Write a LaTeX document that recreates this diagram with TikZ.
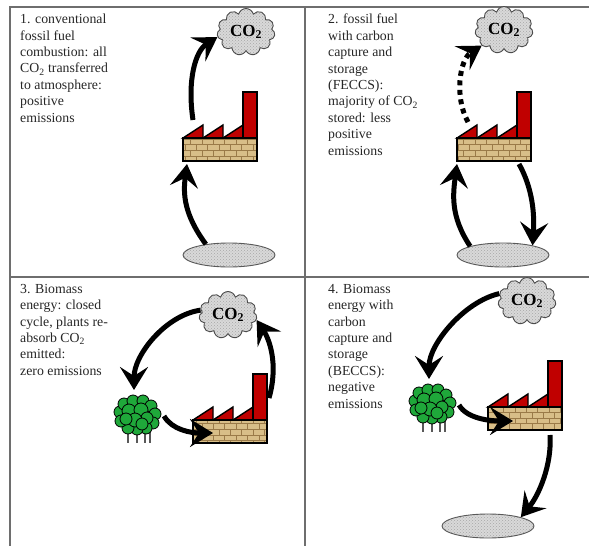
\documentclass[tikz,border=0pt]{standalone}
\usepackage{fontspec}
\setmainfont{Liberation Serif}
\usetikzlibrary{positioning, arrows.meta, shapes.symbols, shapes.geometric, patterns}
\definecolor{roofRed}{HTML}{C00000}
\definecolor{leafGreen}{HTML}{1FA83A}
\definecolor{brickTan}{HTML}{D8BE88}
\definecolor{brickLine}{HTML}{9A7A48}
\definecolor{rockGray}{HTML}{C8C8C8}
\definecolor{ruleGray}{HTML}{6E6E6E}
\tikzset{
  every node/.style={font=\fontsize{13.8}{16.4}\selectfont},
  flow/.style={line width=5pt, -{Stealth[length=23pt, width=28pt, inset=9pt]}},
  flowd/.style={flow, dash pattern=on 5pt off 4.5pt},
  rule/.style={draw=ruleGray, line width=1.6pt},
  note/.style={anchor=north west, inner sep=0pt, align=left, text=black!85},
  puff/.style={cloud, cloud puffs=11, cloud ignores aspect, minimum width=58pt,
               minimum height=47pt, inner sep=0pt, draw=black!70, line width=0.9pt,
               preaction={fill=rockGray!70}, pattern=crosshatch dots, pattern color=gray!70,
               font=\bfseries\fontsize{17}{17}\selectfont},
  rock/.style={ellipse, minimum width=92pt, minimum height=24pt, draw=black!65, line width=0.9pt,
               preaction={fill=rockGray!70}, pattern=crosshatch dots, pattern color=gray!70},
  basebox/.style={draw, line width=1.6pt, minimum width=74pt, minimum height=23pt, inner sep=0pt,
                  outer sep=0pt, preaction={fill=brickTan}, pattern=bricks, pattern color=brickLine},
  roof/.style={draw, line width=1.4pt, fill=roofRed, line join=miter},
  leaf/.style={draw=black, line width=0.8pt, fill=leafGreen},
  trunk/.style={draw=gray!70!black, line width=1.2pt},
  % factory: sawtooth roof, chimney and brick base (origin = top left of base)
  factory/.pic={
    \foreach \i in {0,1,2}
      \draw[roof] (20*\i,0) -- (20*\i+20,-13) -- (20*\i+20,0) -- cycle;
    \draw[roof] (60,0) rectangle (74,-46);
    \node[basebox, anchor=north west] (-base) at (0,0) {};
  },
  % shrub: trunks under a clump of leaves (origin = middle of clump)
  shrub/.pic={
    \foreach \dx in {-9,0,8,13}
      \draw[trunk] (\dx,8) -- (\dx,27);
    \foreach \cx/\cy/\r in {-17/-4/6pt, -13/-12/6pt, -4/-15/6pt, 6/-15/6pt, 14/-10/6pt,
                            18/-2/6pt, 16/7/6pt, 9/12/6pt, 0/13/6pt, -9/12/6pt, -16/5/6pt,
                            -8/-5/7pt, 4/-6/7pt, 10/2/6pt, -2/4/7pt, -11/3/6pt, 5/8/6pt}
      \draw[leaf] (\cx,\cy) circle (\r);
    \coordinate (-in) at (-3,-26);
    \coordinate (-out) at (27,0);
  },
}

\begin{document}
\begin{tikzpicture}[x=1pt, y=-1pt]
  \useasboundingbox (0,0) rectangle (589,546);
  % frame
  \draw[rule] (9,7) -- (589,7);
  \draw[rule] (10,7) -- (10,546);
  \draw[rule] (305,7) -- (305,546);
  \draw[rule] (10,277) -- (589,277);
  % captions
  \node[note] (t1) at (20,14) {1. conventional\\fossil fuel\\combustion: all\\CO\textsubscript{2} transferred\\to atmosphere:\\positive\\emissions};
  \node[note] (t2) at (328,14) {2. fossil fuel\\with carbon\\capture and\\storage\\(FECCS):\\majority of CO\textsubscript{2}\\stored: less\\positive\\emissions};
  \node[note] (t3) at (20,284) {3. Biomass\\energy: closed\\cycle, plants re-\\absorb CO\textsubscript{2}\\emitted:\\zero emissions};
  \node[note] (t4) at (328,284) {4. Biomass\\energy with\\carbon\\capture and\\storage\\(BECCS):\\negative\\emissions};
  % clouds
  \node[puff] (co1) at (246,32) {CO\textsubscript{2}};
  \node[puff] (co2) at (504,30) {CO\textsubscript{2}};
  \node[puff] (co3) at (228,315) {CO\textsubscript{2}};
  \node[puff] (co4) at (527,301) {CO\textsubscript{2}};
  % stores underground
  \node[rock] (e1) at (229,255) {};
  \node[rock] (e2) at (503,255) {};
  \node[rock] (e4) at (488,526) {};
  % plants
  \pic (f1) at (183,138) {factory};
  \pic (f2) at (457,138) {factory};
  \pic (f3) at (193,420) {factory};
  \pic (f4) at (488,407) {factory};
  \pic (t3) at (137,416) {shrub};
  \pic (t4) at (432,405) {shrub};
  % 1. fossil fuel
  \draw[flow] ([xshift=10pt,yshift=18pt]f1-base.north west) .. controls +(-6,-40) and +(-22,14) .. (co1.190);
  \draw[flow] (e1.155) .. controls +(-22,-30) and +(-4,30) .. ([xshift=4pt,yshift=-3pt]f1-base.south west);
  % 2. fossil fuel with capture
  \draw[flowd] ([xshift=11pt,yshift=16pt]f2-base.north west) .. controls +(-14,-25) and +(-22,14) .. (co2.215);
  \draw[flow] (e2.165) .. controls +(-20,-30) and +(-4,30) .. ([xshift=0pt,yshift=-3pt]f2-base.south west);
  \draw[flow] ([xshift=-12pt,yshift=-3pt]f2-base.south east) .. controls +(14,25) and +(2,-30) .. (e2.18);
  % 3. biomass
  \draw[flow] (co3.170) .. controls +(-35,5) and +(0,-35) .. (t3-in);
  \draw[flow] (t3-out) .. controls +(8,14) and +(-22,0) .. ([xshift=20pt,yshift=-13pt]f3-base.north west);
  \draw[flow] ([xshift=2pt,yshift=22pt]f3-base.north east) .. controls +(10,-35) and +(12,18) .. (co3.-10);
  % 4. biomass with capture
  \draw[flow] (co4.165) .. controls +(-35,8) and +(0,-35) .. (t4-in);
  \draw[flow] (t4-out) .. controls +(8,14) and +(-22,0) .. ([xshift=25pt,yshift=-14pt]f4-base.north west);
  \draw[flow] ([xshift=-12pt,yshift=-5pt]f4-base.south east) .. controls +(2,30) and +(18,-22) .. (e4.north east);
\end{tikzpicture}
\end{document}
